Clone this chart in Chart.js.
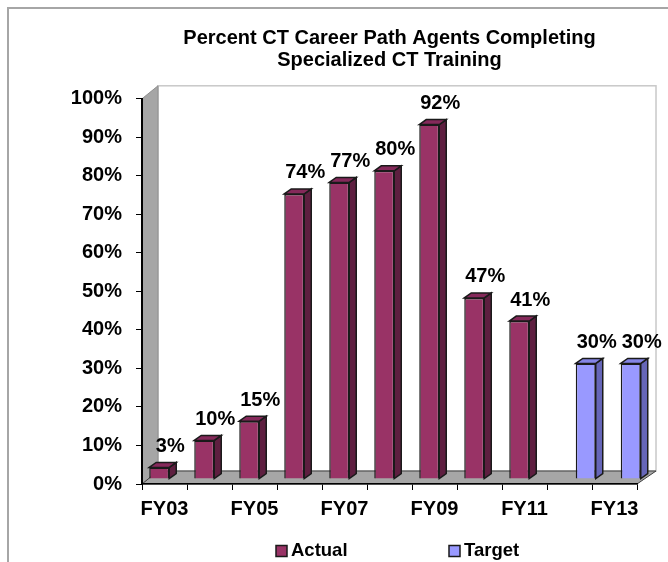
<!DOCTYPE html>
<html>
<head>
<meta charset="utf-8">
<title>Percent CT Career Path Agents Completing Specialized CT Training</title>
<script src="https://cdn.jsdelivr.net/npm/chart.js@4.4.1/dist/chart.umd.min.js"></script>
<style>
  html, body { margin: 0; padding: 0; background: #fff; overflow: hidden; }
  #wrap { width: 668px; height: 562px; }
</style>
</head>
<body>
<div id="wrap"><canvas id="chart" width="668" height="562"></canvas></div>
<script>
// Data
const categories = ['FY03', 'FY04', 'FY05', 'FY06', 'FY07', 'FY08', 'FY09', 'FY10', 'FY11', 'FY12', 'FY13'];
const shownLabels = ['FY03', 'FY05', 'FY07', 'FY09', 'FY11', 'FY13'];
const actualValues = [3, 10, 15, 74, 77, 80, 92, 47, 41, null, null];
const targetValues = [null, null, null, null, null, null, null, null, null, 30, 30];
const titleLines = ['Percent CT Career Path Agents Completing', 'Specialized CT Training'];

const FONT = "'Liberation Sans', Arial, sans-serif";
Chart.defaults.font.family = FONT;
Chart.defaults.color = '#000';

// Fake Excel 3D look
const depth = { left: 16, right: 19, up: 13 };   // back wall offset from the front plane
const barShift = { x: 5.5, y: -5 };               // bars sit part way into the depth
const barDepth = { x: 7, y: -5 };                 // side/top face of each column
const labelOffset = { x: 11, y: -21 };

function poly(ctx, pts, fill, stroke, lw) {
    ctx.beginPath();
    pts.forEach(([x, y], i) => (i ? ctx.lineTo(x, y) : ctx.moveTo(x, y)));
    ctx.closePath();
    ctx.fillStyle = fill;
    ctx.fill();
    if (stroke) {
        ctx.strokeStyle = stroke;
        ctx.lineWidth = lw || 1;
        ctx.stroke();
    }
}

const excel3d = {
    id: 'excel3d',
    beforeDraw(chart) {
        const { ctx, chartArea: a } = chart;
        ctx.save();
        ctx.fillStyle = '#fff';
        ctx.fillRect(0, 0, chart.width, chart.height);

        // outer chart border (runs off the right and bottom edge)
        ctx.strokeStyle = '#a6a6a6';
        ctx.lineWidth = 2;
        ctx.beginPath();
        ctx.moveTo(8, chart.height);
        ctx.lineTo(8, 8);
        ctx.lineTo(chart.width, 8);
        ctx.stroke();

        const bl = a.left + depth.left, br = a.right + depth.right;
        const bt = a.top - depth.up, bb = a.bottom - depth.up;

        // back wall
        ctx.fillStyle = '#fff';
        ctx.fillRect(bl, bt, br - bl, bb - bt);
        ctx.strokeStyle = '#c8c8c8';
        ctx.lineWidth = 1.5;
        ctx.strokeRect(bl, bt, br - bl, bb - bt);

        // side wall and floor
        poly(ctx, [[a.left, a.top], [bl, bt], [bl, bb], [a.left, a.bottom]], '#a6a6a6', '#909090');
        poly(ctx, [[a.left, a.bottom], [bl, bb], [br, bb], [a.right, a.bottom]], '#a6a6a6', '#404040');
        ctx.restore();
    },
    beforeDatasetsDraw(chart) {
        chart.ctx.save();
        chart.ctx.translate(barShift.x, barShift.y);
    },
    afterDatasetsDraw(chart) {
        const ctx = chart.ctx;
        const labels = [];
        chart.data.datasets.forEach((ds, i) => {
            chart.getDatasetMeta(i).data.forEach((bar, j) => {
                const v = ds.data[j];
                if (v == null) return;
                const { x, y, base, width } = bar.getProps(['x', 'y', 'base', 'width'], true);
                const l = x - width / 2, r = x + width / 2;
                poly(ctx, [[r, y], [r + barDepth.x, y + barDepth.y], [r + barDepth.x, base + barDepth.y], [r, base]],
                    ds.sideColor, '#1a1a1a', 1.5);
                poly(ctx, [[l, y], [l + barDepth.x, y + barDepth.y], [r + barDepth.x, y + barDepth.y], [r, y]],
                    ds.topColor, '#1a1a1a', 1.5);
                labels.push([v + '%', x + barShift.x + labelOffset.x, y + barShift.y + labelOffset.y]);
            });
        });
        ctx.restore();

        // data labels
        ctx.save();
        ctx.font = 'bold 20px ' + FONT;
        ctx.fillStyle = '#000';
        ctx.textAlign = 'center';
        ctx.textBaseline = 'middle';
        labels.forEach(([t, x, y]) => ctx.fillText(t, x, y));
        ctx.restore();
    },
    afterDraw(chart) {
        // legend under the plot
        const { ctx, chartArea: a } = chart;
        const slots = [a.left + 134, a.left + 307];
        const y = 551;
        ctx.save();
        ctx.font = 'bold 18.5px ' + FONT;
        ctx.textBaseline = 'middle';
        ctx.textAlign = 'left';
        chart.data.datasets.forEach((ds, i) => {
            const x = slots[i];
            ctx.fillStyle = ds.backgroundColor;
            ctx.fillRect(x, y - 5.5, 11, 11);
            ctx.strokeStyle = '#1a1a1a';
            ctx.lineWidth = 1.5;
            ctx.strokeRect(x, y - 5.5, 11, 11);
            ctx.fillStyle = '#000';
            ctx.fillText(ds.label, x + 15, y);
        });
        ctx.restore();
    }
};

new Chart(document.getElementById('chart'), {
    type: 'bar',
    data: {
        labels: categories,
        datasets: [
            {
                label: 'Actual',
                data: actualValues,
                backgroundColor: '#993366',
                sideColor: '#5e1f40',
                topColor: '#85295a',
                borderColor: '#1a1a1a',
                borderWidth: 1.5,
                categoryPercentage: 0.956,
                barPercentage: 0.93,
                clip: false
            },
            {
                label: 'Target',
                data: targetValues,
                backgroundColor: '#9999ff',
                sideColor: '#6666b8',
                topColor: '#8585e6',
                borderColor: '#1a1a1a',
                borderWidth: 1.5,
                categoryPercentage: 0.956,
                barPercentage: 0.93,
                clip: false
            }
        ]
    },
    options: {
        responsive: false,
        animation: false,
        layout: { padding: { left: 8, right: 31, top: 0, bottom: 34 } },
        plugins: {
            legend: { display: false },
            tooltip: { enabled: false },
            title: {
                display: true,
                text: titleLines,
                fullSize: false,
                color: '#000',
                font: { size: 20, weight: 'bold', lineHeight: 1.12 },
                padding: { top: 27, bottom: 27 }
            }
        },
        scales: {
            x: {
                offset: true,
                grid: { offset: true, drawOnChartArea: false, tickLength: 6, color: '#000' },
                border: { color: '#000', width: 1.5 },
                ticks: {
                    autoSkip: false,
                    maxRotation: 0,
                    padding: 7,
                    color: '#000',
                    font: { size: 20, weight: 'bold' },
                    callback(value, index) {
                        const lab = categories[index];
                        return shownLabels.includes(lab) ? lab : '';
                    }
                }
            },
            y: {
                min: 0,
                max: 100,
                afterFit(scale) { scale.width = 134; },
                grid: { drawOnChartArea: false, tickLength: 6, color: '#000' },
                border: { color: '#000', width: 2 },
                ticks: {
                    stepSize: 10,
                    padding: 14,
                    color: '#000',
                    font: { size: 20, weight: 'bold' },
                    callback: v => v + '%'
                }
            }
        }
    },
    plugins: [excel3d]
});
</script>
</body>
</html>
